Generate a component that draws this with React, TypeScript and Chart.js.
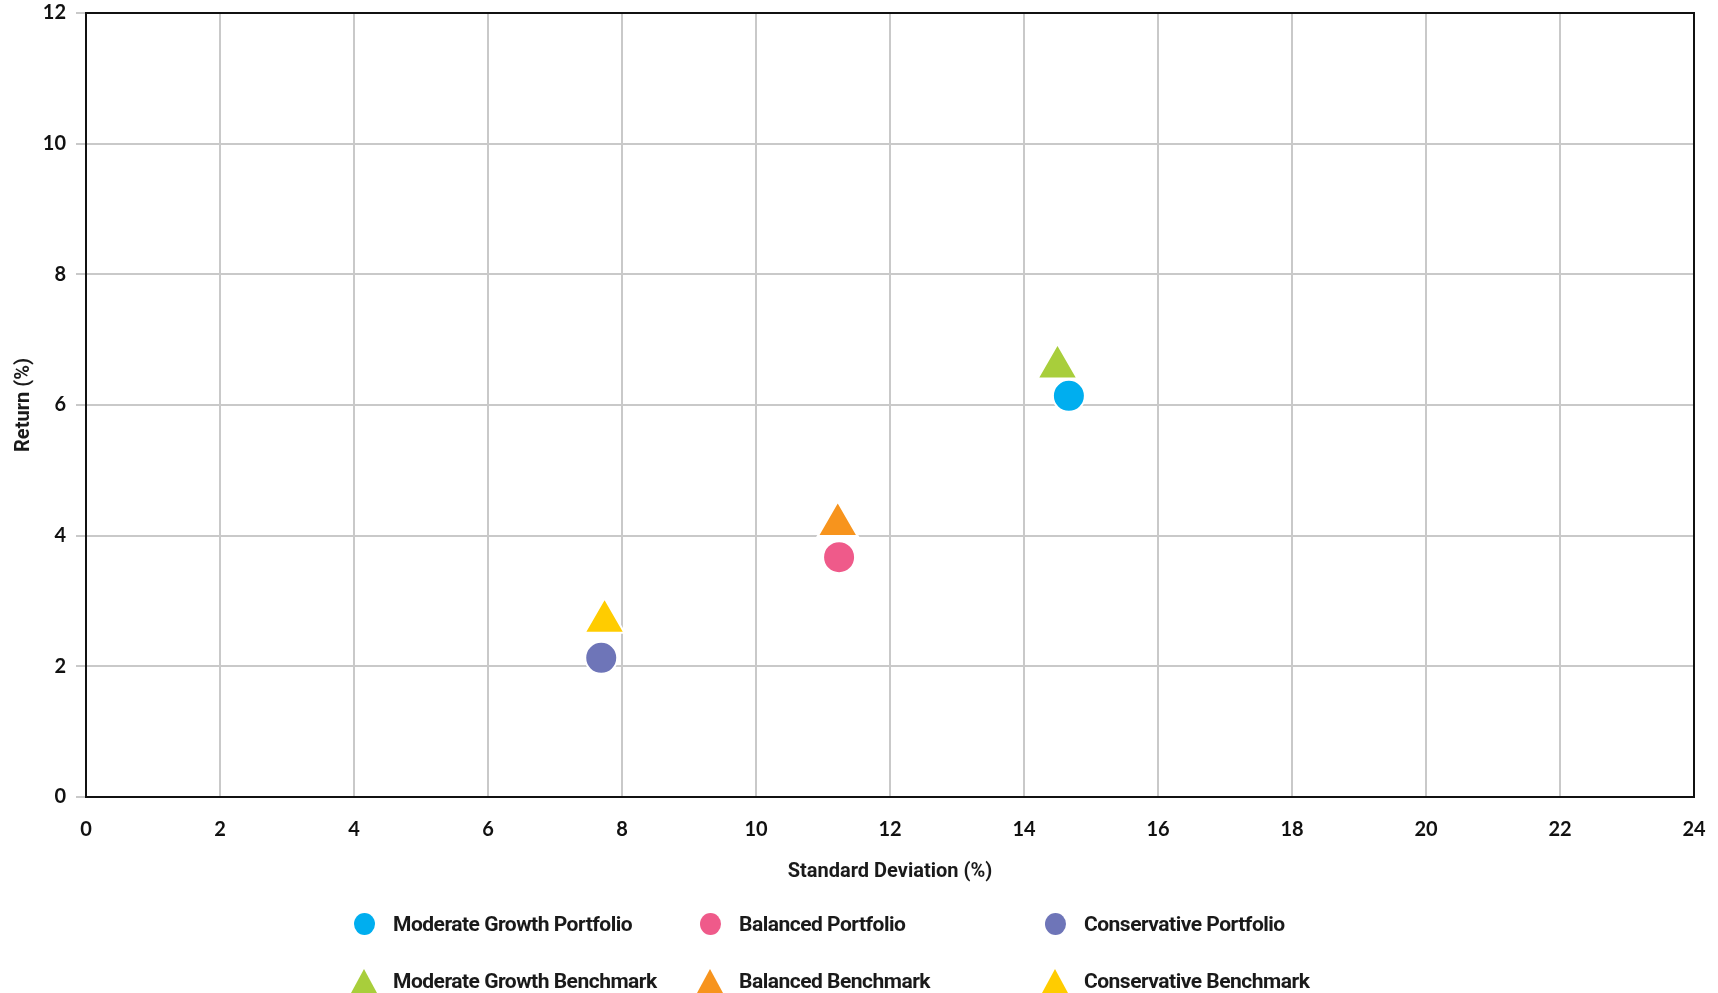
import React, { useEffect, useRef } from "react";
import { Chart, registerables } from "chart.js";

Chart.register(...registerables);

const seriesNames = [
  "Moderate Growth Portfolio",
  "Balanced Portfolio",
  "Conservative Portfolio",
  "Moderate Growth Benchmark",
  "Balanced Benchmark",
  "Conservative Benchmark",
];
const stdDevValues = [14.67, 11.24, 7.69, 14.5, 11.22, 7.74];
const returnValues = [6.14, 3.67, 2.13, 6.58, 4.17, 2.69];
const seriesColors = ["#00AEEF", "#EF5A8A", "#6E75B8", "#A8CE3B", "#F7941D", "#FFCC00"];
const seriesShapes = ["circle", "circle", "circle", "triangle", "triangle", "triangle"];

const xTitle = "Standard Deviation (%)";
const yTitle = "Return (%)";
const xMin = 0, xMax = 24, yMin = 0, yMax = 12, tickStep = 2;

const legendCols = [364, 710, 1055];
const legendRows = [924, 981];

const boxPlugin = {
  id: "boxPlugin",
  beforeDatasetsDraw(chart: any) {
    const { ctx, chartArea } = chart;
    ctx.save();
    ctx.strokeStyle = "#111";
    ctx.lineWidth = 2;
    ctx.strokeRect(chartArea.left, chartArea.top, chartArea.right - chartArea.left, chartArea.bottom - chartArea.top);
    ctx.restore();
  },
};

export default function App() {
  const ref = useRef<HTMLCanvasElement>(null);
  useEffect(() => {
    if (!ref.current) return;
    const datasets = seriesNames.map((name, i) => ({
      label: name,
      data: [{ x: stdDevValues[i], y: returnValues[i] }],
      backgroundColor: seriesColors[i],
      borderColor: "#ffffff",
      borderWidth: 2,
      pointStyle: seriesShapes[i],
      pointRadius: seriesShapes[i] === "circle" ? 16 : 23,
      pointHoverRadius: seriesShapes[i] === "circle" ? 16 : 23,
    }));
    const chart = new Chart(ref.current, {
      type: "scatter",
      data: { datasets },
      plugins: [boxPlugin],
      options: {
        animation: false,
        responsive: false,
        events: [],
        layout: { autoPadding: false, padding: { left: 0, top: 0, right: 0, bottom: 96 } },
        plugins: { legend: { display: false }, tooltip: { enabled: false } },
        scales: {
          x: {
            type: "linear",
            min: xMin,
            max: xMax,
            ticks: {
              stepSize: tickStep,
              padding: 21,
              color: "#111",
              font: { family: "Lato", weight: "bold", size: 20 },
            },
            grid: { color: "#c9c9c9", lineWidth: 2, drawTicks: false },
            border: { display: false },
            title: {
              display: true,
              text: xTitle,
              color: "#1a1a1a",
              font: { family: "Roboto", weight: "bold", size: 20 },
              padding: { top: 0, bottom: 13 },
            },
            afterFit: (s: any) => {
              s.height = 100;
              s.paddingLeft = 0;
              s.paddingRight = 24;
            },
          },
          y: {
            type: "linear",
            min: yMin,
            max: yMax,
            ticks: {
              stepSize: tickStep,
              padding: 10,
              color: "#111",
              font: { family: "Lato", weight: "bold", size: 20 },
            },
            grid: { color: "#c9c9c9", lineWidth: 2, drawTicks: true, tickLength: 10, tickColor: "#c9c9c9" },
            border: { display: false },
            title: {
              display: true,
              text: yTitle,
              color: "#1a1a1a",
              font: { family: "Roboto", weight: "bold", size: 20 },
              padding: { top: 12, bottom: 0 },
            },
            afterFit: (s: any) => {
              s.width = 86;
              s.paddingTop = 13;
              s.paddingBottom = 0;
            },
          },
        },
      },
    } as any);
    return () => chart.destroy();
  }, []);

  const legendOrder = [0, 1, 2, 3, 4, 5];
  return (
    <div style={{ position: "absolute", left: 0, top: 0, width: 1718, height: 993, background: "#fff" }}>
      <canvas ref={ref} width={1718} height={993} style={{ width: 1718, height: 993, display: "block" }} />
      {legendOrder.map((i) => {
        const col = i % 3;
        const row = Math.floor(i / 3);
        const cx = legendCols[col];
        const cy = legendRows[row];
        const isCircle = seriesShapes[i] === "circle";
        return (
          <div key={i}>
            {isCircle ? (
              <div
                style={{
                  position: "absolute",
                  left: cx - 10.5,
                  top: cy - 11,
                  width: 21,
                  height: 22,
                  borderRadius: "50%",
                  background: seriesColors[i],
                }}
              />
            ) : (
              <div
                style={{
                  position: "absolute",
                  left: cx - 13,
                  top: cy - 12,
                  width: 26,
                  height: 24,
                  background: seriesColors[i],
                  clipPath: "polygon(50% 0%, 100% 100%, 0% 100%)",
                }}
              />
            )}
            <div
              style={{
                position: "absolute",
                left: cx + 29,
                top: cy - 13,
                height: 26,
                lineHeight: "26px",
                fontFamily: "Roboto",
                fontWeight: 700,
                fontSize: 21,
                letterSpacing: "-0.5px",
                color: "#1a1a1a",
                whiteSpace: "nowrap",
              }}
            >
              {seriesNames[i]}
            </div>
          </div>
        );
      })}
    </div>
  );
}
